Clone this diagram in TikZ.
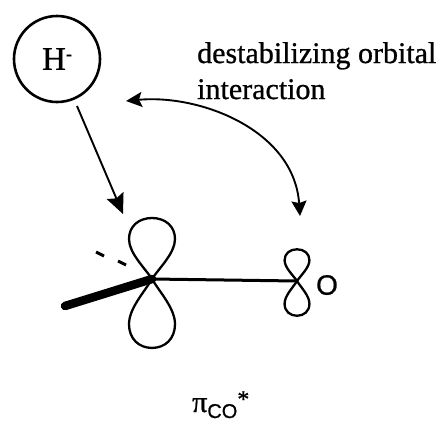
\documentclass[tikz,border=0pt]{standalone}
\usepackage{fontspec}
\setmainfont[RawFeature={embolden=0.8}]{Liberation Serif}
\setsansfont[RawFeature={embolden=0.8}]{Liberation Sans}
\usetikzlibrary{arrows.meta,positioning}
\tikzset{
  orbline/.style={line width=2.3pt},
  hookarrow/.style={line width=1.9pt},
  bigtip/.style={-{Stealth[length=20pt,width=18pt,inset=3pt]}},
  pics/lobe/.style={code={
    \draw[orbline] (0,0) .. controls (-8,-12) and (-23,-26) .. (-23,-40)
      .. controls (-23,-53) and (-13,-61) .. (0,-61)
      .. controls (13,-61) and (23,-53) .. (23,-40)
      .. controls (23,-26) and (8,-12) .. (0,0);}}
}
\begin{document}
\begin{tikzpicture}[x=1pt,y=-1pt,
  every node/.style={font=\fontsize{30}{36}\selectfont}]
\useasboundingbox (0,0) rectangle (442,424);
\node[draw,circle,line width=2.6pt,minimum size=86pt,inner sep=0pt] (hyd) at (57,59) {\fontsize{33}{33}\selectfont H\raisebox{10pt}{\fontsize{18}{18}\selectfont\textbf{-}}};
\node[align=left,anchor=base west,inner sep=0pt] (lab) at (197,99) {destabilizing orbital\\interaction};
% orbitals
\coordinate (car) at (152,279);
\coordinate (oxy) at (297,281);
\pic at (car) {lobe};
\pic[yscale=-1.13] at (car) {lobe};
\pic[xscale=.54,yscale=.52] at (oxy) {lobe};
\pic[xscale=.54,yscale=-.57] at (oxy) {lobe};
\draw[line width=3pt] (car) -- (oxy);
\coordinate (wedge) at (65,306);
\draw[line width=8.5pt,line cap=round] (wedge) -- (car);
\coordinate (dasha) at (96,252);
\coordinate (dashb) at (104,256);
\coordinate (dashc) at (118,261);
\coordinate (dashd) at (126,265);
\draw[line width=3pt] (dasha) -- (dashb);
\draw[line width=3pt] (dashc) -- (dashd);
\node[font=\fontsize{28}{28}\selectfont\sffamily] (oatom) at (327,285) {O};
% arrows
\coordinate (attack) at (123,214);
\coordinate (start) at (77,106);
\draw[hookarrow,bigtip] (start) -- (attack);
\coordinate (arca) at (126,101);
\coordinate (arcb) at (300,216);
\draw[hookarrow,{Stealth[length=16pt,width=15pt,inset=3pt]}-{Stealth[length=15pt,width=15pt,inset=2pt]}]
  (arca) .. controls (200,94) and (294,130) .. (arcb);
\node[anchor=base west,inner sep=0pt] (pico) at (192,412)
  {π\raisebox{-6pt}{\fontsize{20}{20}\selectfont\sffamily CO}\raisebox{5pt}{\fontsize{24}{24}\selectfont *}};
\end{tikzpicture}
\end{document}
